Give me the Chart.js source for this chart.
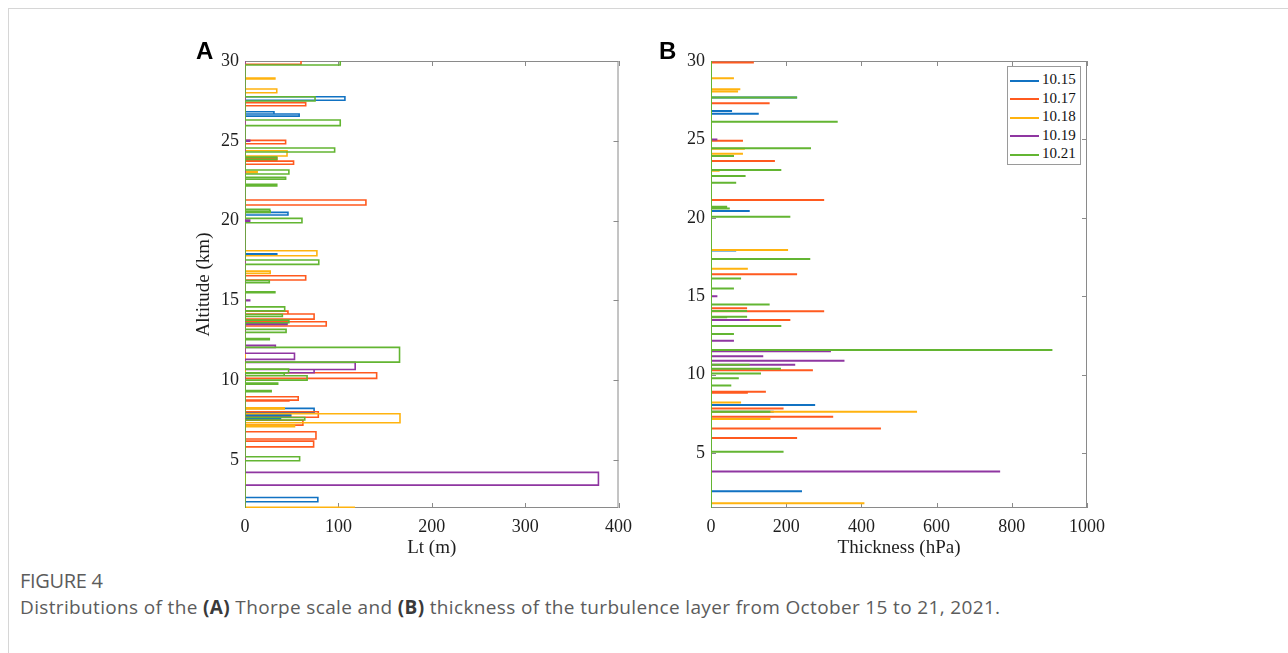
<!DOCTYPE html>
<html>
<head>
<meta charset="utf-8">
<script src="https://cdn.jsdelivr.net/npm/chart.js@4.4.1/dist/chart.umd.min.js"></script>
<style>
  html, body { margin: 0; padding: 0; background: #fff; }
  #page { position: relative; width: 1288px; height: 653px; overflow: hidden; }
  #frame { position: absolute; left: 8px; top: 8px; width: 1290px; height: 700px; border-top: 1px solid #d6d6d6; border-left: 1px solid #d6d6d6; }
  canvas { position: absolute; }
  .panel { position: absolute; font: bold 24px "Liberation Sans", Arial, sans-serif; color: #000; }
  #legend { position: absolute; left: 1007px; top: 66px; width: 72px; height: 97px; border: 1px solid #9a9a9a; background: #fff; font: 15px "Liberation Serif", serif; color: #111; }
  #legend div { position: absolute; left: 2px; height: 18px; line-height: 18px; white-space: nowrap; }
  #legend span.ln { display: inline-block; width: 29px; height: 2px; vertical-align: middle; margin-right: 3px; }
  #fig { position: absolute; left: 20px; top: 567px; font: 20px "Open Sans", sans-serif; color: #5c5c5c; letter-spacing: -0.3px; }
  #cap { position: absolute; left: 20px; top: 594px; font: 19px "Open Sans", sans-serif; color: #5c5c5c; white-space: nowrap; letter-spacing: 0.35px; }
  #cap b { color: #3a3a3a; }
</style>
</head>
<body>
<div id="page">
  <div id="frame"></div>
  <canvas id="chartA" width="465" height="540" style="left:175px; top:30px;"></canvas>
  <canvas id="chartB" width="460" height="540" style="left:660px; top:30px;"></canvas>
  <div class="panel" style="left:196px; top:37px;">A</div>
  <div class="panel" style="left:659px; top:37px;">B</div>
  <div id="legend"></div>
  <div id="fig">FIGURE 4</div>
  <div id="cap">Distributions of the <b>(A)</b> Thorpe scale and <b>(B)</b> thickness of the turbulence layer from October 15 to 21, 2021.</div>
</div>
<script>
// Series
const seriesNames = ['10.15', '10.17', '10.18', '10.19', '10.21'];
const seriesColors = ['#1172c2', '#ff5a1f', '#ffb30f', '#8f36a1', '#63b532'];

// Panel A: turbulent layers [bottom km, top km, Lt m]
const lt1015 = [[2.39, 2.66, 78], [7.55, 7.62, 38], [7.75, 7.85, 49], [7.97, 8.24, 74], [17.88, 17.93, 34],
  [20.35, 20.52, 46], [26.55, 26.68, 58], [26.68, 26.82, 31], [27.54, 27.76, 107]];
const lt1017 = [[5.83, 6.19, 73.5], [6.32, 6.78, 76], [7.19, 7.5, 62], [7.68, 8.03, 78.5], [8.7, 8.76, 47],
  [8.76, 8.97, 57], [10.12, 10.47, 141], [13.4, 13.67, 87], [13.83, 14.15, 74], [14.15, 14.33, 46],
  [16.28, 16.55, 65], [20.98, 21.29, 129.5], [23.53, 23.73, 52], [23.84, 23.95, 34], [24.82, 25.03, 43.5],
  [27.2, 27.39, 65], [29.8, 30.2, 60]];
const lt1018 = [[1.5, 2.04, 117], [7.09, 7.19, 53], [7.34, 7.9, 166], [8.2, 8.28, 42], [16.7, 16.84, 27],
  [17.8, 18.11, 77], [23.0, 23.08, 13], [24.05, 24.38, 45], [28.01, 28.25, 34], [28.87, 28.93, 32]];
const lt1019 = [[3.43, 4.23, 378.5], [10.47, 10.68, 74], [10.68, 11.12, 118], [11.31, 11.69, 53],
  [12.06, 12.19, 32.5], [13.5, 13.6, 45], [14.98, 15.02, 5], [19.97, 20.03, 5], [24.97, 25.03, 5]];
const lt1021 = [[4.96, 5.21, 58.5], [7.51, 7.67, 64], [9.28, 9.35, 28], [9.75, 9.82, 35], [10.01, 10.28, 66.5],
  [10.3, 10.45, 42], [10.47, 10.7, 46.7], [11.14, 12.06, 165.5], [12.55, 12.62, 26], [13.0, 13.19, 44],
  [13.6, 13.77, 47], [14.0, 14.12, 40], [14.35, 14.6, 42.5], [15.48, 15.55, 32], [16.11, 16.24, 26],
  [17.26, 17.53, 79], [19.87, 20.14, 61], [20.52, 20.6, 27], [20.6, 20.71, 26.5], [22.17, 22.27, 34],
  [22.59, 22.71, 43.5], [22.92, 23.17, 47], [23.84, 23.98, 34], [24.3, 24.55, 96], [25.95, 26.3, 102],
  [27.49, 27.76, 75], [29.75, 30.2, 102]];

// Panel B: layer thickness [altitude km, thickness hPa]
const thk1015 = [[2.56, 242], [7.63, 167], [8.06, 277], [17.92, 67], [20.43, 103], [26.64, 127], [26.81, 56], [27.68, 229]];
const thk1017 = [[5.96, 229], [6.57, 452], [7.32, 325], [7.85, 193], [8.85, 98], [8.91, 146], [10.29, 271],
  [13.48, 211], [14.04, 301], [14.23, 96], [16.4, 229], [21.13, 301], [23.62, 170], [23.95, 61], [24.92, 85],
  [27.3, 156], [29.9, 114]];
const thk1018 = [[1.81, 408], [7.17, 158], [7.63, 548], [8.23, 80], [16.75, 98], [17.95, 205], [23.0, 23],
  [24.09, 85], [24.4, 90], [28.05, 72], [28.2, 78], [28.9, 61]];
const thk1019 = [[3.83, 769], [10.63, 224], [10.89, 355], [11.18, 139], [11.49, 319], [12.16, 61], [13.48, 103],
  [15.0, 17], [25.0, 17]];
const thk1021 = [[5.08, 193], [7.63, 158], [9.31, 54], [9.78, 74], [10.08, 133], [10.38, 186], [10.63, 103],
  [11.57, 908], [12.59, 61], [13.1, 187], [13.66, 43], [13.69, 96], [14.06, 96], [14.48, 156], [15.5, 61],
  [16.14, 80], [17.37, 264], [20.07, 211], [20.6, 50], [20.71, 43], [22.24, 67], [22.67, 92], [23.05, 187],
  [23.95, 61], [24.43, 266], [26.13, 337], [27.68, 229]];

// Axes
const xTicksA = [0, 100, 200, 300, 400];
const xTicksB = [0, 200, 400, 600, 800, 1000];
const yTicks = [5, 10, 15, 20, 25, 30];
const yMinA = 2, yMinB = 1.5, yMax = 30;

const axisColor = '#8a8a8a';
const textColor = '#1e1e1e';
const serif = '"Liberation Serif", "Times New Roman", serif';

// profile: zero everywhere except inside each layer
function layerPath(layers, yMin) {
  const pts = [{ x: 0, y: yMin - 1 }];
  layers.slice().sort((a, b) => a[0] - b[0]).forEach(([b, t, v]) => {
    pts.push({ x: 0, y: b }, { x: v, y: b }, { x: v, y: t }, { x: 0, y: t });
  });
  pts.push({ x: 0, y: yMax + 1 });
  return pts;
}

function spikePath(rows, yMin) {
  const pts = [{ x: 0, y: yMin - 1 }];
  rows.slice().sort((a, b) => a[0] - b[0]).forEach(([h, v]) => {
    pts.push({ x: 0, y: h }, { x: v, y: h }, { x: 0, y: h });
  });
  pts.push({ x: 0, y: yMax + 1 });
  return pts;
}

// box + inward ticks on all four sides
const boxTicks = {
  id: 'boxTicks',
  beforeDatasetsDraw(chart) {
    const { ctx, chartArea: a, scales: { x, y } } = chart;
    ctx.save();
    ctx.strokeStyle = axisColor;
    ctx.lineWidth = 1;
    ctx.strokeRect(a.left + 0.5, a.top + 0.5, a.width - 1, a.height - 1);
    ctx.beginPath();
    x.ticks.forEach(t => {
      const px = Math.round(x.getPixelForValue(t.value)) + 0.5;
      ctx.moveTo(px, a.bottom); ctx.lineTo(px, a.bottom - 5);
      ctx.moveTo(px, a.top); ctx.lineTo(px, a.top + 5);
    });
    y.ticks.forEach(t => {
      const py = Math.round(y.getPixelForValue(t.value)) + 0.5;
      ctx.moveTo(a.left, py); ctx.lineTo(a.left + 5, py);
      ctx.moveTo(a.right, py); ctx.lineTo(a.right - 5, py);
    });
    ctx.stroke();
    ctx.restore();
  }
};

function makeChart(id, datasets, xTicks, xMax, yMin, xTitle, yTitle, yWidth, pad) {
  return new Chart(document.getElementById(id), {
    type: 'scatter',
    data: { datasets },
    options: {
      responsive: false,
      animation: false,
      layout: { padding: pad },
      plugins: { legend: { display: false }, tooltip: { enabled: false } },
      scales: {
        x: {
          type: 'linear', min: 0, max: xMax,
          afterBuildTicks: s => { s.ticks = xTicks.map(v => ({ value: v })); },
          afterFit: s => { s.height = 62; },
          grid: { display: false, drawTicks: false }, border: { display: false },
          ticks: { color: textColor, font: { family: serif, size: 18 }, padding: 8, maxRotation: 0, callback: v => String(v) },
          title: { display: true, text: xTitle, color: textColor, font: { family: serif, size: 19 }, padding: { top: 0, bottom: 11 } }
        },
        y: {
          type: 'linear', min: yMin, max: yMax,
          afterBuildTicks: s => { s.ticks = yTicks.map(v => ({ value: v })); },
          afterFit: s => { s.width = yWidth; },
          grid: { display: false, drawTicks: false }, border: { display: false },
          ticks: { color: textColor, font: { family: serif, size: 18 }, padding: 6, callback: v => String(v) },
          title: { display: !!yTitle, text: yTitle, color: textColor, font: { family: serif, size: 19 }, padding: { top: 18, bottom: 0 } }
        }
      }
    },
    plugins: [boxTicks]
  });
}

const layersA = [lt1015, lt1017, lt1018, lt1019, lt1021];
const rowsB = [thk1015, thk1017, thk1018, thk1019, thk1021];

// later series drawn on top: lower order = drawn last
const dsA = layersA.map((L, i) => ({
  label: seriesNames[i], data: layerPath(L, yMinA), showLine: true, pointRadius: 0,
  borderColor: seriesColors[i], borderWidth: 1.6, order: seriesNames.length - i
}));
const dsB = rowsB.map((R, i) => ({
  label: seriesNames[i], data: spikePath(R, yMinB), showLine: true, pointRadius: 0,
  borderColor: seriesColors[i], borderWidth: 2, order: seriesNames.length - i
}));

makeChart('chartA', dsA, xTicksA, 400, yMinA, 'Lt (m)', 'Altitude (km)', 70, { top: 31, right: 18, left: 0, bottom: 0 });
makeChart('chartB', dsB, xTicksB, 1000, yMinB, 'Thickness (hPa)', '', 51, { top: 31, right: 33, left: 0, bottom: 0 });

// legend box inside panel B
const legendEl = document.getElementById('legend');
seriesNames.forEach((name, i) => {
  const row = document.createElement('div');
  row.style.top = (3 + i * 18.5) + 'px';
  row.innerHTML = `<span class="ln" style="background:${seriesColors[i]}"></span>${name}`;
  legendEl.appendChild(row);
});
</script>
</body>
</html>
